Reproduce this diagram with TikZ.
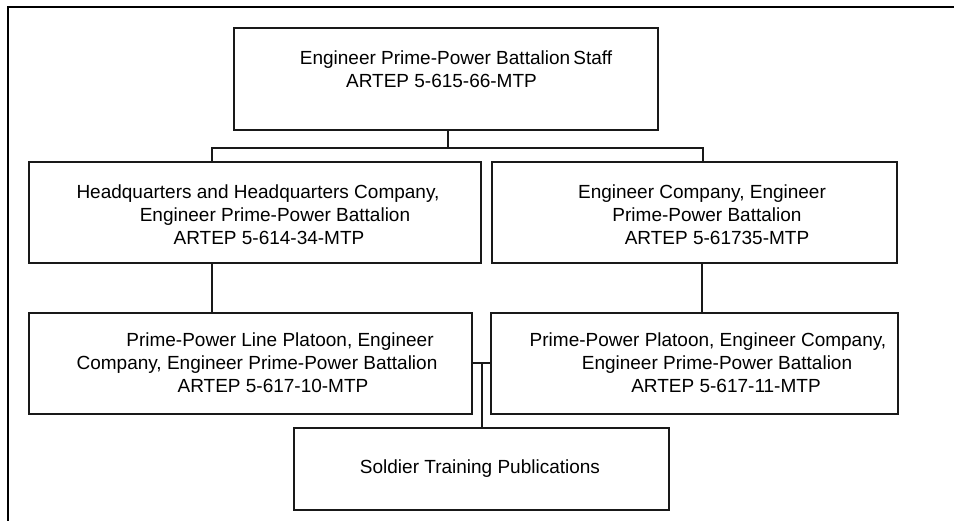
\documentclass[tikz,border=0pt]{standalone}
\usepackage{fontspec}
\setmainfont{Liberation Sans}
\begin{document}
\begin{tikzpicture}[x=1pt,y=-1pt,
  box/.style={draw=black!90, line width=1.3pt, inner sep=0pt},
  txt/.style={font=\fontsize{19}{23}\selectfont, inner sep=0pt, anchor=base},
  conn/.style={draw=black!90, line width=1.2pt},
  frame/.style={draw=black, line width=2pt}]
\useasboundingbox (0,0) rectangle (954,521);
\draw[frame] (954,7) -- (8,7) -- (8,521);
% boxes
\node[box, minimum width=424pt, minimum height=102pt] (top) at (446,79) {};
\node[box, minimum width=452pt, minimum height=101pt] (hq) at (255,212.5) {};
\node[box, minimum width=405pt, minimum height=101pt] (ec) at (694.5,212.5) {};
\node[box, minimum width=443pt, minimum height=101pt] (plt) at (250.5,363.5) {};
\node[box, minimum width=407pt, minimum height=101pt] (pp) at (694.5,363.5) {};
\node[box, minimum width=375pt, minimum height=82pt] (stp) at (481.5,469) {};
% texts
\node[txt] (t1) at (456,65) {Engineer Prime-Power Battalion\,Staff};
\node[txt] (t2) at (441.5,88) {ARTEP 5-615-66-MTP};
\node[txt] (h1) at (258,199) {Headquarters and Headquarters Company,};
\node[txt] (h2) at (275,222) {Engineer Prime-Power Battalion};
\node[txt] (h3) at (269,245) {ARTEP 5-614-34-MTP};
\node[txt] (e1) at (702,199) {Engineer Company, Engineer};
\node[txt] (e2) at (707,222) {Prime-Power Battalion};
\node[txt] (e3) at (717,245) {ARTEP 5-61735-MTP};
\node[txt] (p1) at (280,347) {Prime-Power Line Platoon, Engineer};
\node[txt] (p2) at (257,370) {Company, Engineer Prime-Power Battalion};
\node[txt] (p3) at (273,393) {ARTEP 5-617-10-MTP};
\node[txt] (q1) at (708,347) {Prime-Power Platoon, Engineer Company,};
\node[txt] (q2) at (717,370) {Engineer Prime-Power Battalion};
\node[txt] (q3) at (726,393) {ARTEP 5-617-11-MTP};
\node[txt] (s1) at (480,474) {Soldier Training Publications};
% connectors
\coordinate (j1) at (448,148);
\coordinate (bl) at (212,148);
\coordinate (br) at (703,148);
\coordinate (j2) at (482,363);
\draw[conn] (top.south -| j1) -- (j1);
\draw[conn] (hq.north -| bl) -- (bl) -- (br) -- (ec.north -| br);
\draw[conn] (hq.south -| bl) -- (plt.north -| bl);
\draw[conn] ([xshift=-1pt]ec.south -| br) -- ([xshift=-1pt]pp.north -| br);
\draw[conn] (plt.east |- j2) -- (pp.west |- j2);
\draw[conn] (j2) -- (stp.north -| j2);
\end{tikzpicture}
\end{document}
